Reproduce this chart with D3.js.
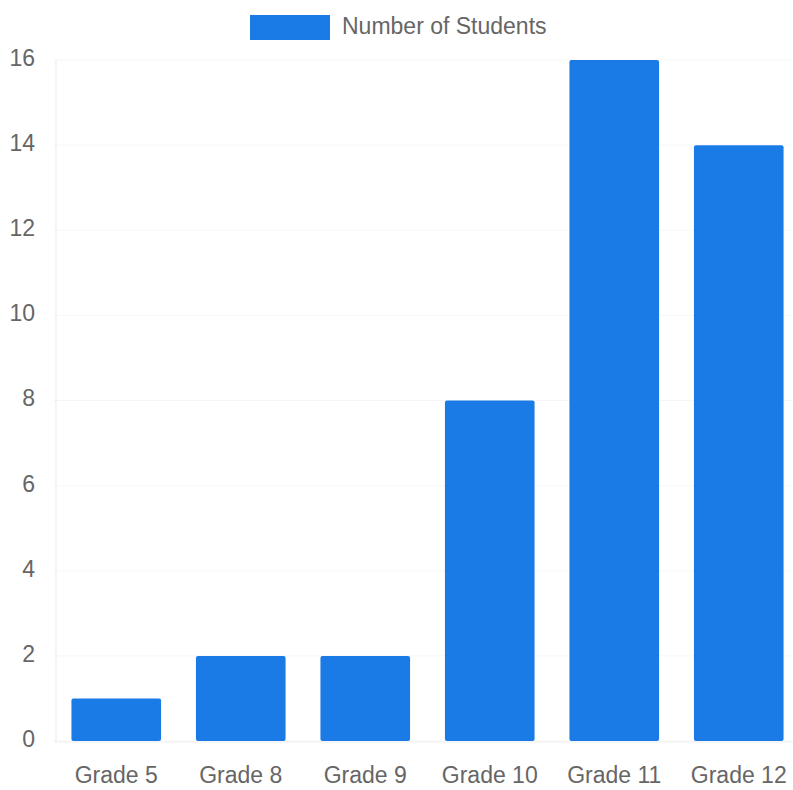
<!DOCTYPE html>
<html>
<head>
<meta charset="utf-8">
<script src="https://cdn.jsdelivr.net/npm/d3@7"></script>
<style>
  body { margin: 0; background: #fff; }
  text { font-family: "Liberation Sans", Arial, sans-serif; fill: #666; }
</style>
</head>
<body>
<svg id="chart" width="793" height="790"></svg>
<script>
// chart data
const grades = ['Grade 5', 'Grade 8', 'Grade 9', 'Grade 10', 'Grade 11', 'Grade 12'];
const students = [1, 2, 2, 8, 16, 14];
const yTicks = [0, 2, 4, 6, 8, 10, 12, 14, 16];
const seriesName = 'Number of Students';

const barColor = '#1b7be6';
const fontFam = '"Liberation Sans", Arial, sans-serif';

let svg = d3.select('#chart');

let plotLeft = 54, plotRight = 801, plotTop = 60, plotBottom = 741;

let x = d3.scaleBand()
    .domain(grades)
    .range([plotLeft, plotRight])
    .paddingInner(0.28)
    .paddingOuter(0.14);

let y = d3.scaleLinear()
    .domain([0, 16])
    .range([plotBottom, plotTop]);

// faint grid
svg.append('g')
    .selectAll('line')
    .data(yTicks)
    .join('line')
    .attr('x1', plotLeft)
    .attr('x2', plotRight)
    .attr('y1', d => y(d))
    .attr('y2', d => y(d))
    .attr('stroke', 'rgba(0,0,0,0.035)');

svg.append('line')
    .attr('x1', plotLeft + 2).attr('x2', plotLeft + 2)
    .attr('y1', plotTop).attr('y2', plotBottom)
    .attr('stroke', 'rgba(0,0,0,0.08)');

svg.append('line')
    .attr('x1', plotLeft).attr('x2', plotRight)
    .attr('y1', plotBottom + 1).attr('y2', plotBottom + 1)
    .attr('stroke', 'rgba(0,0,0,0.06)');

// y axis
let yAxis = svg.append('g')
    .attr('transform', `translate(${plotLeft - 19},-2)`)
    .call(d3.axisLeft(y).tickValues(yTicks).tickSize(0).tickPadding(0));
yAxis.select('.domain').remove();
yAxis.selectAll('text')
    .attr('font-size', '23px')
    .style('fill', '#666')
    .attr('font-family', fontFam);

// x axis
let xAxis = svg.append('g')
    .attr('transform', `translate(0,${plotBottom + 26})`)
    .call(d3.axisBottom(x).tickSize(0).tickPadding(0));
xAxis.select('.domain').remove();
xAxis.selectAll('text')
    .attr('font-size', '23px')
    .attr('dy', '0.71em')
    .style('fill', '#666')
    .attr('font-family', fontFam);

// bars
svg.append('g')
    .selectAll('rect')
    .data(grades)
    .join('rect')
    .attr('x', d => x(d))
    .attr('y', (d, i) => y(students[i]))
    .attr('width', x.bandwidth())
    .attr('height', (d, i) => y(0) - y(students[i]))
    .attr('rx', 2)
    .attr('fill', barColor);

// legend
let legend = svg.append('g');
legend.append('rect')
    .attr('x', 250)
    .attr('y', 15)
    .attr('width', 80)
    .attr('height', 25)
    .attr('fill', barColor);
legend.append('text')
    .attr('x', 342)
    .attr('y', 26)
    .attr('dy', '0.35em')
    .attr('font-size', '23px')
    .attr('font-family', fontFam)
    .text(seriesName);
</script>
</body>
</html>
